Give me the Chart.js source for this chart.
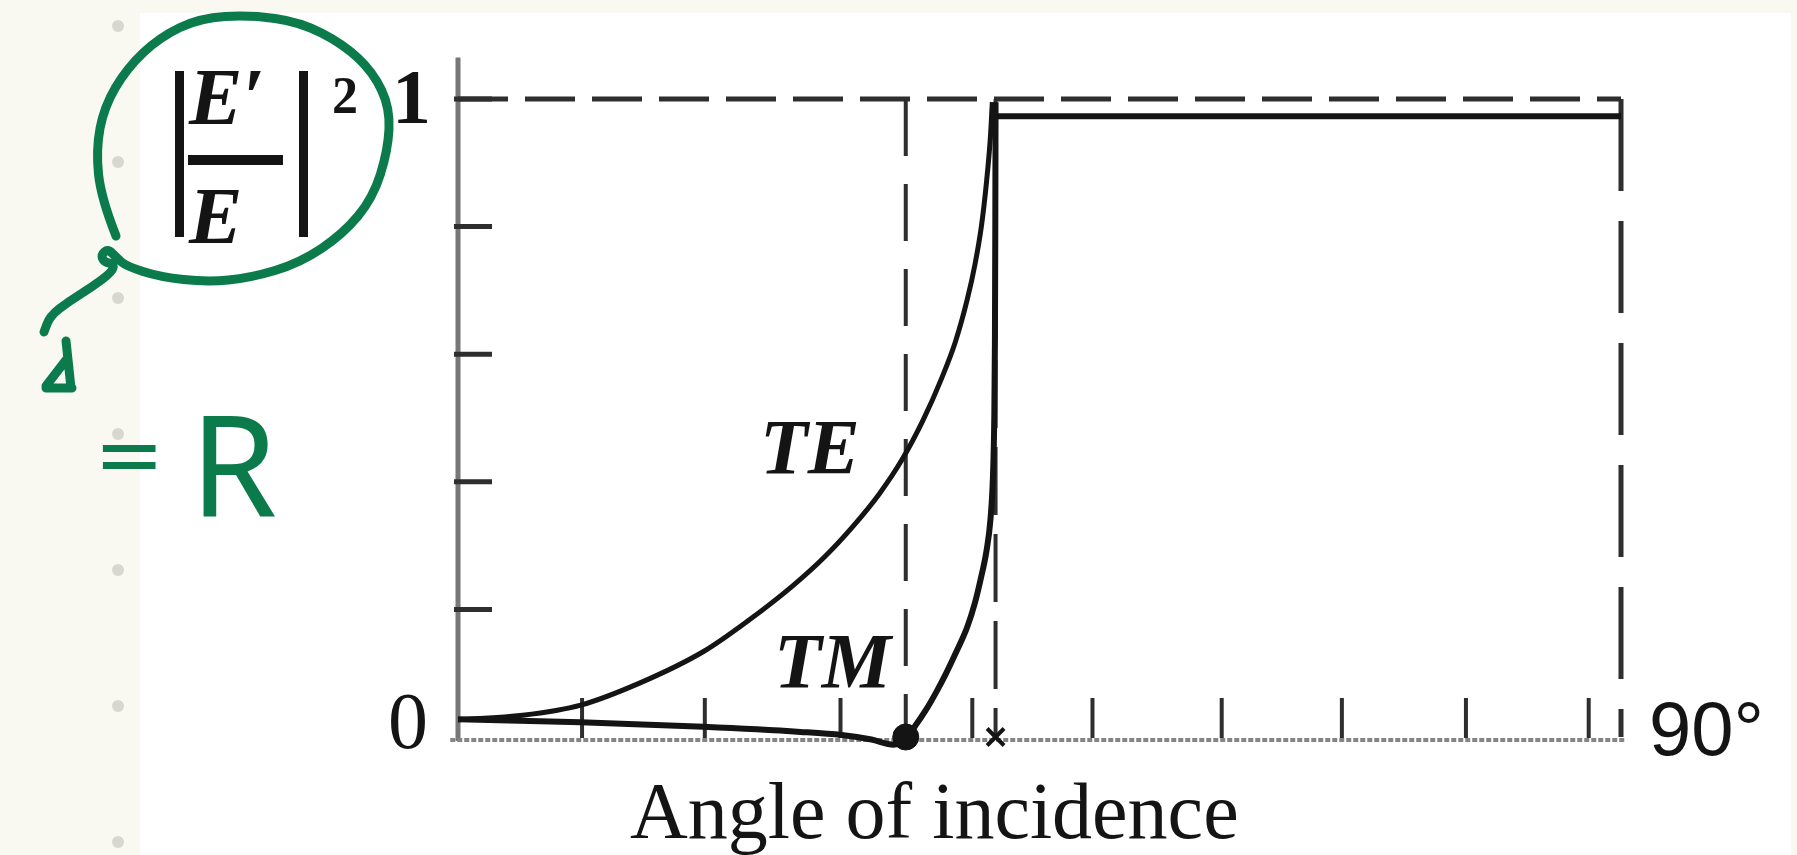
<!DOCTYPE html>
<html>
<head>
<meta charset="utf-8">
<title>Reflection at a glass–air surface</title>
<script src="https://cdn.jsdelivr.net/npm/chart.js@4/dist/chart.umd.min.js"></script>
<style>
  html, body { margin: 0; padding: 0; background: #f9f9f2; }
  #wrap { width: 1797px; height: 855px; position: relative; }
</style>
</head>
<body>
<div id="wrap"><canvas id="chart-reflect"></canvas></div>
<script>
// |E'/E|^2 against angle of incidence, internal reflection (glass -> air)
const teAngle = [0, 5, 9.5, 14, 19, 22.5, 25.9, 28.4, 30.6, 32.6, 34.4, 36.0, 37.4, 38.5, 39.4, 40.0, 40.5, 40.9, 41.2, 41.35];
const teValue = [0.027, 0.034, 0.05, 0.084, 0.134, 0.183, 0.237, 0.283, 0.331, 0.381, 0.436, 0.497, 0.561, 0.62, 0.685, 0.74, 0.8, 0.87, 0.94, 0.995];

const tmAngle = [0, 9.5, 19, 26.5, 29.7, 32, 33.7, 34.65, 35.4, 36.2, 37.0, 37.8, 38.6, 39.4, 40.0, 40.5, 40.9, 41.2, 41.4, 41.5, 41.55, 41.58, 41.6];
const tmValue = [0.028, 0.023, 0.016, 0.008, 0.003, -0.004, -0.012, -0.002, 0.018, 0.042, 0.07, 0.101, 0.135, 0.172, 0.21, 0.252, 0.292, 0.34, 0.41, 0.5, 0.62, 0.8, 0.995];

// total reflection beyond the critical angle
const plateauAngle = [41.5, 90];
const plateauValue = [0.973, 0.973];

const brewsterAngle = 34.65;
const criticalAngle = 41.6;
const maxAngle = 90;

const angleTicks = [9.6, 19.1, 29.6, 39.8, 49.1, 59.1, 68.4, 78.0, 87.5];
const valueTicks = [0.2, 0.4, 0.6, 0.8, 1];

const pts = (xs, ys) => xs.map((x, i) => ({ x, y: ys[i] }));

const INK = '#141414';
const GUIDE = '#2e2e2e';
const PEN = '#0b7b4b';

function smoothStroke(ctx, p) {
  ctx.beginPath();
  ctx.moveTo(p[0][0], p[0][1]);
  for (let i = 1; i < p.length - 1; i++) {
    const mx = (p[i][0] + p[i + 1][0]) / 2;
    const my = (p[i][1] + p[i + 1][1]) / 2;
    ctx.quadraticCurveTo(p[i][0], p[i][1], mx, my);
  }
  const last = p[p.length - 1];
  ctx.lineTo(last[0], last[1]);
  ctx.stroke();
}

const figureDecor = {
  id: 'figureDecor',
  beforeDraw(chart) {
    const { ctx, width, height } = chart;
    ctx.save();
    ctx.fillStyle = '#f9f9f2';
    ctx.fillRect(0, 0, width, height);
    ctx.fillStyle = '#ffffff';
    ctx.fillRect(140, 13, 1651, height - 13);
    // notebook dots down the margin
    ctx.fillStyle = '#d7d7d0';
    for (let k = 0; k < 7; k++) {
      ctx.beginPath();
      ctx.arc(118, 26 + 136 * k, 6, 0, Math.PI * 2);
      ctx.fill();
    }
    ctx.restore();
  },
  beforeDatasetsDraw(chart) {
    const { ctx } = chart;
    const xs = chart.scales.x, ys = chart.scales.y;
    const x0 = xs.getPixelForValue(0), y0 = ys.getPixelForValue(0);
    ctx.save();
    // axes
    ctx.strokeStyle = '#777777';
    ctx.lineWidth = 5;
    ctx.beginPath();
    ctx.moveTo(x0, ys.getPixelForValue(1.065));
    ctx.lineTo(x0, y0 + 4);
    ctx.stroke();
    ctx.strokeStyle = '#858585';
    ctx.lineWidth = 4;
    ctx.setLineDash([5, 2]);
    ctx.beginPath();
    ctx.moveTo(xs.getPixelForValue(-0.6), y0 + 3);
    ctx.lineTo(xs.getPixelForValue(maxAngle + 0.3), y0 + 3);
    ctx.stroke();
    ctx.setLineDash([]);
    // inward tick marks
    ctx.strokeStyle = GUIDE;
    ctx.lineWidth = 5;
    valueTicks.forEach(v => {
      const y = ys.getPixelForValue(v);
      ctx.beginPath();
      ctx.moveTo(x0 - 4, y);
      ctx.lineTo(x0 + 34, y);
      ctx.stroke();
    });
    ctx.lineWidth = 4;
    angleTicks.forEach(a => {
      const x = xs.getPixelForValue(a);
      ctx.beginPath();
      ctx.moveTo(x, y0 - 39);
      ctx.lineTo(x, y0 + 1);
      ctx.stroke();
    });
    ctx.restore();
  },
  afterDraw(chart) {
    const { ctx } = chart;
    const xs = chart.scales.x, ys = chart.scales.y;
    const x0 = xs.getPixelForValue(0), y0 = ys.getPixelForValue(0), y1 = ys.getPixelForValue(1);
    const x90 = xs.getPixelForValue(maxAngle);
    ctx.save();
    ctx.fillStyle = INK;
    ctx.textBaseline = 'alphabetic';

    // axis values
    ctx.font = '80px "Liberation Serif"';
    ctx.textAlign = 'right';
    ctx.fillText('0', x0 - 30, y0 + 11);
    ctx.font = 'bold 78px "Liberation Serif"';
    ctx.textAlign = 'left';
    ctx.fillText('1', x0 - 66, y1 + 24);
    ctx.font = '76px "Liberation Sans"';
    ctx.fillText('90°', x90 + 28, y0 + 18);

    // curve names
    ctx.font = 'bold italic 78px "Liberation Serif"';
    ctx.fillText('TE', 760, 473);
    ctx.fillText('TM', 774, 687);

    ctx.font = '80px "Liberation Serif"';
    ctx.fillText('Angle of incidence', 630, 838);

    // |E'/E|^2
    ctx.font = 'bold italic 80px "Liberation Serif"';
    ctx.fillText('E′', 189, 124);
    ctx.fillText('E', 189, 243);
    ctx.fillRect(188, 155, 95, 10);
    ctx.fillRect(175, 71, 9, 166);
    ctx.fillRect(299, 71, 9, 166);
    ctx.font = 'bold 52px "Liberation Serif"';
    ctx.fillText('2', 332, 113);

    // green pen notes
    ctx.strokeStyle = PEN;
    ctx.fillStyle = PEN;
    ctx.lineWidth = 9;
    ctx.lineCap = 'round';
    ctx.lineJoin = 'round';
    smoothStroke(ctx, [
      [116, 236], [101, 198], [96, 150], [104, 107], [127, 68], [160, 37], [200, 18],
      [250, 15], [300, 22], [343, 44], [373, 72], [390, 108], [388, 150], [373, 198],
      [343, 234], [300, 263], [250, 278], [207, 282], [160, 277], [126, 266],
      [117, 258], [108, 249], [101, 255], [104, 262], [114, 264], [112, 272],
      [92, 287], [68, 302], [50, 316], [44, 332]
    ]);
    ctx.beginPath();
    ctx.moveTo(66, 341); ctx.lineTo(71, 388);
    ctx.moveTo(46, 386); ctx.lineTo(66, 360);
    ctx.moveTo(46, 388); ctx.lineTo(72, 388);
    ctx.stroke();
    ctx.font = '84px "DejaVu Sans"';
    ctx.fillText('=', 94, 483);
    ctx.font = '140px "Noto Sans"';
    ctx.fillText('R', 190, 517);
    ctx.restore();
  }
};

const curve = (data, width) => ({
  data, borderColor: INK, borderWidth: width, cubicInterpolationMode: 'monotone',
  pointRadius: 0, clip: false, fill: false
});
const guide = (data, dash, width) => ({
  data, borderColor: GUIDE, borderWidth: width, borderDash: dash,
  borderCapStyle: 'butt', pointRadius: 0, tension: 0, clip: false, fill: false
});

new Chart(document.getElementById('chart-reflect'), {
  type: 'line',
  data: {
    datasets: [
      { data: pts([brewsterAngle], [0]), showLine: false, pointRadius: 13,
        pointBackgroundColor: INK, pointBorderColor: INK, clip: false },
      { data: pts([criticalAngle], [0]), showLine: false, pointStyle: 'crossRot',
        pointRadius: 12, pointBorderWidth: 4, pointBorderColor: INK, clip: false },
      curve(pts(teAngle, teValue), 5),
      curve(pts(tmAngle, tmValue), 6),
      { ...curve(pts(plateauAngle, plateauValue), 6), cubicInterpolationMode: 'default', tension: 0 },
      guide(pts([0, maxAngle], [1, 1]), [50, 17], 5),
      guide(pts([brewsterAngle, brewsterAngle], [1, 0]), [57, 28], 4),
      guide(pts([criticalAngle, criticalAngle], [1, 0]), [68, 19], 4),
      guide(pts([maxAngle, maxAngle], [1, 0]), [92, 30], 5)
    ]
  },
  options: {
    responsive: true,
    maintainAspectRatio: false,
    devicePixelRatio: 1,
    animation: false,
    events: [],
    layout: { padding: { left: 458, right: 176, top: 99, bottom: 118 } },
    plugins: { legend: { display: false }, tooltip: { enabled: false } },
    scales: {
      x: { type: 'linear', min: 0, max: maxAngle, display: false },
      y: { type: 'linear', min: 0, max: 1, display: false }
    }
  },
  plugins: [figureDecor]
});
</script>
</body>
</html>
